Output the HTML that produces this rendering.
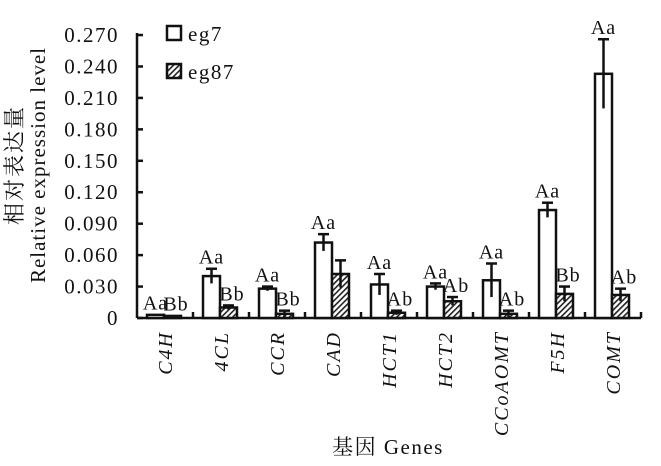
<!DOCTYPE html>
<html><head><meta charset="utf-8"><style>body{margin:0;background:#fff}svg{display:block}text{font-family:"Liberation Serif","Noto Serif CJK SC",serif;fill:#111}</style></head>
<body>
<svg width="661" height="466" viewBox="0 0 661 466" xmlns="http://www.w3.org/2000/svg">
<defs><pattern id="h" width="4" height="4" patternUnits="userSpaceOnUse" patternTransform="rotate(45)"><rect width="4" height="4" fill="#fff"/><rect width="1.6" height="4" fill="#222"/></pattern></defs>
<g stroke="#111" stroke-width="2.5" fill="none">
<line x1="137" y1="318" x2="641" y2="318"/>
<line x1="137" y1="33" x2="137" y2="318"/>
</g>
<g stroke="#111" stroke-width="2.5" id="yt"></g>
<g id="yl" font-size="21" text-anchor="end" letter-spacing="1.5"></g>
<g id="bars"></g>
<g id="lab" font-size="20" font-style="italic" text-anchor="end" letter-spacing="2"></g>
<text x="388" y="454" font-size="21" text-anchor="middle" letter-spacing="1.5">基因 Genes</text>
<text transform="translate(22,165) rotate(-90)" font-size="22" text-anchor="middle" letter-spacing="2">相对表达量</text>
<text transform="translate(45,165) rotate(-90)" font-size="21" text-anchor="middle" letter-spacing="1">Relative expression level</text>
<rect x="167" y="26" width="14" height="14" fill="#fff" stroke="#111" stroke-width="2.5"/>
<text x="188" y="41" font-size="21" letter-spacing="1.5">eg7</text>
<rect x="167" y="64" width="14" height="14" fill="url(#h)" stroke="#111" stroke-width="2.5"/>
<text x="188" y="79" font-size="21" letter-spacing="1.5">eg87</text>
</svg>
<script>
const ns="http://www.w3.org/2000/svg",Y=v=>318-v*1048;
function el(p,t,a,tx){const e=document.createElementNS(ns,t);for(const k in a)e.setAttribute(k,a[k]);if(tx)e.textContent=tx;document.getElementById(p).appendChild(e);}
const yl=["0","0.030","0.060","0.090","0.120","0.150","0.180","0.210","0.240","0.270"];
yl.forEach((s,i)=>{const y=Y(i*0.03);el("yt","line",{x1:137,x2:143,y1:y,y2:y});el("yl","text",{x:119,y:y+7},s);});
for(let i=1;i<=9;i++){const x=137+i*56;el("yt","line",{x1:x,x2:x,y1:312,y2:318});}
const d=[["C4H",.003,.0005,"Aa",.002,.0003,"Bb"],["4CL",.040,.007,"Aa",.010,.002,"Bb"],["CCR",.028,.002,"Aa",.004,.003,"Bb"],["CAD",.072,.008,"Aa",.042,.013,""],["HCT1",.032,.010,"Aa",.005,.002,"Ab"],["HCT2",.030,.003,"Aa",.016,.004,"Ab"],["CCoAOMT",.036,.016,"Aa",.004,.003,"Ab"],["F5H",.103,.007,"Aa",.023,.007,"Bb"],["COMT",.233,.033,"Aa",.022,.006,"Ab"]];
d.forEach((g,i)=>{const x0=137+56*i+10;
[[1,x0,"#fff"],[4,x0+17,"url(#h)"]].forEach(([k,x,f])=>{const v=g[k],e=g[k+1],t=g[k+2];
el("bars","rect",{x:x,y:Y(v),width:17,height:318-Y(v),fill:f,stroke:"#111","stroke-width":2.5});
if(e>.001){el("bars","line",{x1:x+8.5,x2:x+8.5,y1:Y(v-e),y2:Y(v+e),stroke:"#111","stroke-width":2.5});
el("bars","line",{x1:x+3,x2:x+14,y1:Y(v+e),y2:Y(v+e),stroke:"#111","stroke-width":2.5});}
if(t)el("bars","text",{x:x+(k==4?12:8.5),y:Y(v+e)-5,"font-size":20,"text-anchor":"middle","letter-spacing":1},t);});
const cx=137+56*i+35;el("lab","text",{transform:`translate(${cx},331) rotate(-90)`},g[0]);});
</script>
</body></html>
